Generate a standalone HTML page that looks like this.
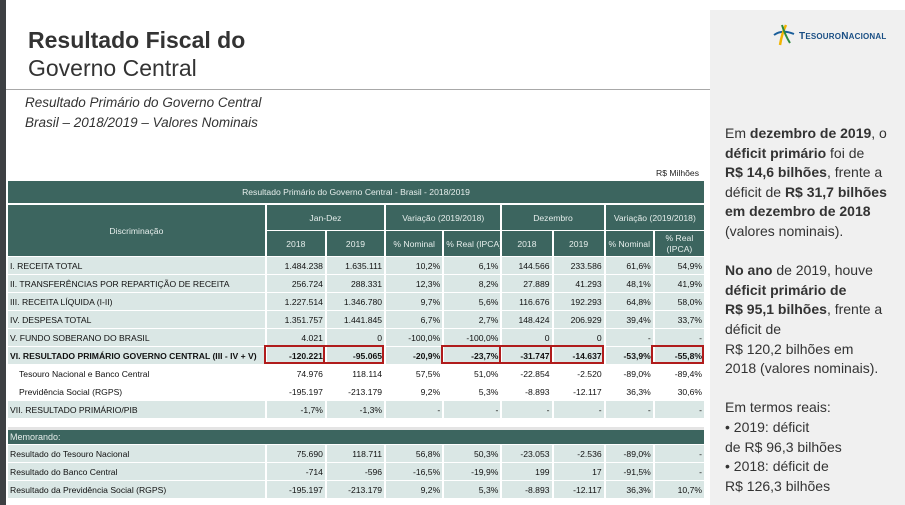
<!DOCTYPE html>
<html><head><meta charset="utf-8"><style>
*{margin:0;padding:0;box-sizing:border-box}
body{width:905px;height:505px;position:relative;background:#fff;font-family:"Liberation Sans",sans-serif;overflow:hidden;color:#222}
.lb{position:absolute;left:0;top:0;width:6px;height:505px;background:#3d4043}
.rp{position:absolute;left:710px;top:10px;width:195px;height:495px;background:#f0f0f0}
.hl{position:absolute;left:6px;top:89px;width:704px;height:1px;background:#a8a8a8}
.t1{position:absolute;left:28px;top:27px;font-size:23px;font-weight:bold;color:#333}
.t2{position:absolute;left:28px;top:55px;font-size:23px;color:#333}
.st{position:absolute;left:25px;font-size:13.5px;font-style:italic;color:#333}
table{position:absolute;left:6px;border-collapse:separate;border-spacing:2px 1px;table-layout:fixed;font-size:8.6px;color:#111}
td{height:17px;background:#dae7e5;text-align:right;padding:0 2px;white-space:nowrap;overflow:hidden}
td:first-child{text-align:left}
tr.w td{background:#fff}
tr.w td:first-child{padding-left:11px}
tr.b td{font-weight:bold}
.h td{background:#3c655f;color:#e6eeec;text-align:center}
.red{position:absolute;border:2px solid #b01c1c;height:19px;top:345px}
.txt{position:absolute;left:725px;top:124px;font-size:14px;line-height:19.6px;color:#333;width:168px}
</style></head><body>
<div class="lb"></div>
<div class="rp"></div>
<div class="hl"></div>
<div class="t1">Resultado Fiscal do</div>
<div class="t2">Governo Central</div>
<div class="st" style="top:95px">Resultado Primário do Governo Central</div>
<div class="st" style="top:115px">Brasil – 2018/2019 – Valores Nominais</div>
<div style="position:absolute;left:656px;top:168px;font-size:8.6px">R$ Milhões</div>
<div style="position:absolute;left:772px;top:23px;width:22px;height:22px">
<svg width="24" height="24" viewBox="0 0 24 24"><path d="M2 12 Q10 6 22 11" stroke="#1a5e9a" stroke-width="2" fill="none"/><path d="M8 22 Q10 10 14 2" stroke="#f2b400" stroke-width="2.5" fill="none"/><path d="M10 2 Q13 12 18 20" stroke="#2d8a3e" stroke-width="2" fill="none"/></svg></div>
<div style="position:absolute;left:799px;top:31px;font-size:10px;font-weight:bold;color:#1a4f85;letter-spacing:0.2px">T<span style="font-size:8px">ESOURO</span>N<span style="font-size:8px">ACIONAL</span></div>

<table style="top:180px;width:700px">
<colgroup><col style="width:256px"><col style="width:58px"><col style="width:57px"><col style="width:56px"><col style="width:56px"><col style="width:49px"><col style="width:50px"><col style="width:47px"><col style="width:49px"></colgroup>
<tr class="h"><td colspan="9" style="height:23px;text-align:center;border-bottom:1px solid #fff">Resultado Primário do Governo Central - Brasil - 2018/2019</td></tr>
<tr class="h"><td rowspan="2" style="text-align:center">Discriminação</td><td colspan="2" style="height:25px">Jan-Dez</td><td colspan="2">Variação (2019/2018)</td><td colspan="2">Dezembro</td><td colspan="2">Variação (2019/2018)</td></tr>
<tr class="h"><td style="height:25px">2018</td><td>2019</td><td>% Nominal</td><td>% Real (IPCA)</td><td>2018</td><td>2019</td><td>% Nominal</td><td style="line-height:11px">% Real<br>(IPCA)</td></tr>
<tr><td>I. RECEITA TOTAL</td><td>1.484.238</td><td>1.635.111</td><td>10,2%</td><td>6,1%</td><td>144.566</td><td>233.586</td><td>61,6%</td><td>54,9%</td></tr>
<tr><td>II. TRANSFERÊNCIAS POR REPARTIÇÃO DE RECEITA</td><td>256.724</td><td>288.331</td><td>12,3%</td><td>8,2%</td><td>27.889</td><td>41.293</td><td>48,1%</td><td>41,9%</td></tr>
<tr><td>III. RECEITA LÍQUIDA (I-II)</td><td>1.227.514</td><td>1.346.780</td><td>9,7%</td><td>5,6%</td><td>116.676</td><td>192.293</td><td>64,8%</td><td>58,0%</td></tr>
<tr><td>IV. DESPESA TOTAL</td><td>1.351.757</td><td>1.441.845</td><td>6,7%</td><td>2,7%</td><td>148.424</td><td>206.929</td><td>39,4%</td><td>33,7%</td></tr>
<tr><td>V. FUNDO SOBERANO DO BRASIL</td><td>4.021</td><td>0</td><td>-100,0%</td><td>-100,0%</td><td>0</td><td>0</td><td>-</td><td>-</td></tr>
<tr class="b"><td>VI. RESULTADO PRIMÁRIO GOVERNO CENTRAL (III - IV + V)</td><td>-120.221</td><td>-95.065</td><td>-20,9%</td><td>-23,7%</td><td>-31.747</td><td>-14.637</td><td>-53,9%</td><td>-55,8%</td></tr>
<tr class="w"><td>Tesouro Nacional e Banco Central</td><td>74.976</td><td>118.114</td><td>57,5%</td><td>51,0%</td><td>-22.854</td><td>-2.520</td><td>-89,0%</td><td>-89,4%</td></tr>
<tr class="w"><td>Previdência Social (RGPS)</td><td>-195.197</td><td>-213.179</td><td>9,2%</td><td>5,3%</td><td>-8.893</td><td>-12.117</td><td>36,3%</td><td>30,6%</td></tr>
<tr><td>VII. RESULTADO PRIMÁRIO/PIB</td><td>-1,7%</td><td>-1,3%</td><td>-</td><td>-</td><td>-</td><td>-</td><td>-</td><td>-</td></tr>
</table>
<div style="position:absolute;left:8px;top:427px;width:696px;height:3px;background:#e4e4e4"></div>
<table style="top:429px;width:700px">
<colgroup><col style="width:256px"><col style="width:58px"><col style="width:57px"><col style="width:56px"><col style="width:56px"><col style="width:49px"><col style="width:50px"><col style="width:47px"><col style="width:49px"></colgroup>
<tr class="h"><td colspan="9" style="text-align:left;height:14px;font-size:9px">Memorando:</td></tr>
<tr><td>Resultado do Tesouro Nacional</td><td>75.690</td><td>118.711</td><td>56,8%</td><td>50,3%</td><td>-23.053</td><td>-2.536</td><td>-89,0%</td><td>-</td></tr>
<tr><td>Resultado do Banco Central</td><td>-714</td><td>-596</td><td>-16,5%</td><td>-19,9%</td><td>199</td><td>17</td><td>-91,5%</td><td>-</td></tr>
<tr><td>Resultado da Previdência Social (RGPS)</td><td>-195.197</td><td>-213.179</td><td>9,2%</td><td>5,3%</td><td>-8.893</td><td>-12.117</td><td>36,3%</td><td>10,7%</td></tr>
</table>
<div class="red" style="left:264px;width:61px"></div>
<div class="red" style="left:323px;width:61px"></div>
<div class="red" style="left:441px;width:60px"></div>
<div class="red" style="left:499px;width:53px"></div>
<div class="red" style="left:550px;width:54px"></div>
<div class="red" style="left:651px;width:53px"></div>

<div class="txt">Em <b>dezembro de 2019</b>, o <b>déficit primário</b> foi de<br><b>R$ 14,6 bilhões</b>, frente a déficit de <b>R$ 31,7 bilhões em dezembro de 2018</b> (valores nominais).<br><br><b>No ano</b> de 2019, houve <b>déficit primário de<br>R$ 95,1 bilhões</b>, frente a déficit de<br>R$ 120,2 bilhões em<br>2018 (valores nominais).<br><br>Em termos reais:<br>• 2019: déficit<br>de R$ 96,3 bilhões<br>• 2018: déficit de<br>R$ 126,3 bilhões</div>
</body></html>
